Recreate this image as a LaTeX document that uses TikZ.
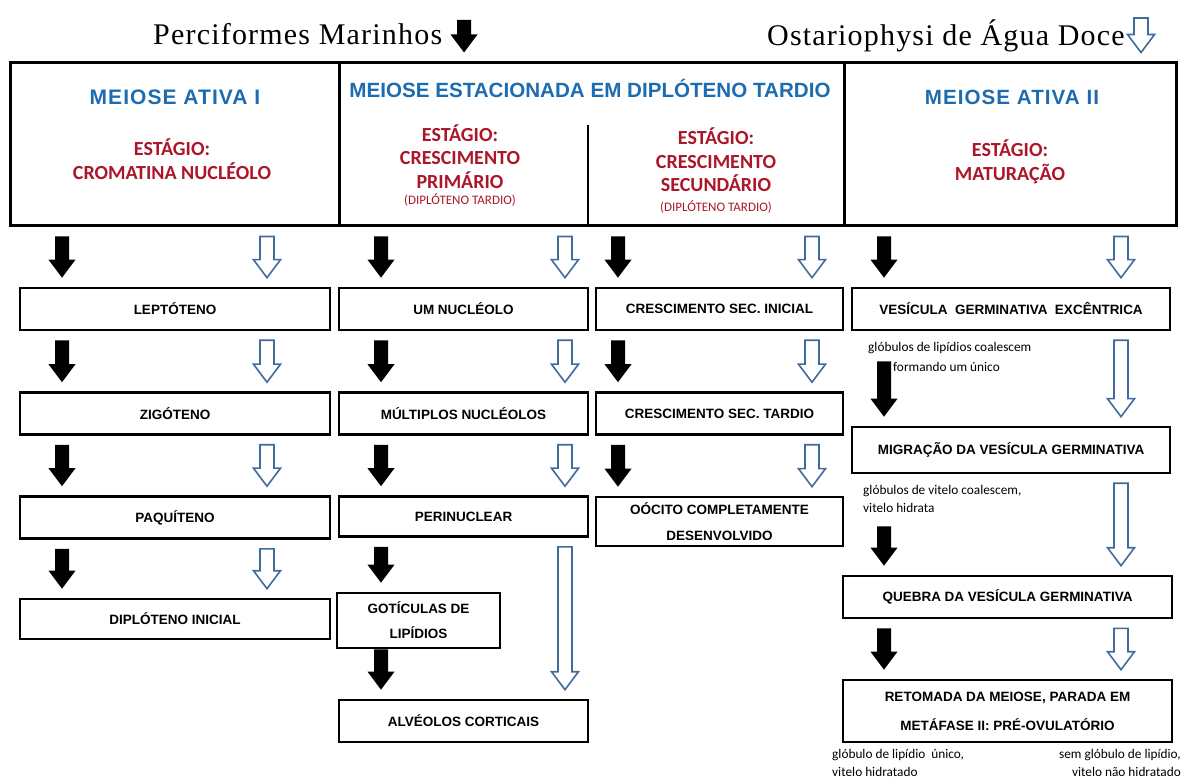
\documentclass[tikz,border=0pt]{standalone}
\usepackage{fontspec}
\setmainfont{Liberation Sans}
\newfontfamily\calfont{Carlito}
\newfontfamily\titlefont[LetterSpace=4]{Liberation Serif}
\newfontfamily\widesans[LetterSpace=5]{Liberation Sans}
\usetikzlibrary{calc}

\definecolor{headblue}{RGB}{29,108,176}
\definecolor{stagered}{RGB}{172,22,40}
\definecolor{arrowblue}{RGB}{64,108,156}

\tikzset{
  blkarrow/.style={fill=black, to path={
      let \p1=(\tikztostart), \p2=(\tikztotarget) in
      (\x1-7pt,\y1-9pt) -- (\x1+7pt,\y1-9pt) -- (\x1+7pt,\y2+27pt)
      -- (\x1+13.5pt,\y2+27pt) -- (\x1,\y2+9pt) -- (\x1-13.5pt,\y2+27pt)
      -- (\x1-7pt,\y2+27pt) -- cycle}},
  hollowarrow/.style={blkarrow, fill=white, draw=arrowblue, line width=1.6pt},
  stagebox/.style={draw, line width=2.6pt, minimum height=42pt, inner sep=0pt,
      align=center, font=\bfseries\fontsize{13.5}{27}\selectfont},
  headtitle/.style={text=headblue, inner sep=0pt, font=\bfseries\fontsize{20.6}{24}\selectfont},
  stagetext/.style={text=stagered, align=center, inner sep=0pt,
      font=\calfont\bfseries\fontsize{20}{23.5}\selectfont},
  tardio/.style={text=stagered, inner sep=0pt, font=\calfont\fontsize{13}{15}\selectfont},
  note/.style={inner sep=0pt, font=\calfont\fontsize{13.3}{18}\selectfont},
}

\begin{document}
\begin{tikzpicture}[x=1pt, y=-1pt]
\useasboundingbox (0,0) rectangle (1184,783);

% Titles
\node[anchor=base west, inner sep=0pt, font=\titlefont\fontsize{30}{36}\selectfont] (perci) at (153,45) {Perciformes Marinhos};
\node[anchor=base east, inner sep=0pt, font=\titlefont\fontsize{30}{36}\selectfont] (ostario) at (1125,46) {Ostariophysi de Água Doce};
\coordinate (pmtop) at (464,11);
\coordinate (odtop) at (1141,9);

% Header frame
\node[draw, line width=3pt, minimum width=1166pt, minimum height=163pt, inner sep=0pt] (hdr) at (593,144.5) {};
\coordinate (divA) at (339,0);
\coordinate (divB) at (844,0);
\coordinate (divC) at (588,125);
\draw[line width=3pt] (hdr.north -| divA) -- (hdr.south -| divA);
\draw[line width=3pt] (hdr.north -| divB) -- (hdr.south -| divB);
\draw[line width=1.8pt] (divC) -- (hdr.south -| divC);

% Header texts
\node[headtitle, font=\widesans\bfseries\fontsize{21}{24}\selectfont] (ativa1) at (175,97) {MEIOSE ATIVA I};
\node[headtitle] (estac) at (590,88) {MEIOSE ESTACIONADA EM DIPLÓTENO TARDIO};
\node[headtitle, font=\widesans\bfseries\fontsize{20.6}{24}\selectfont] (ativa2) at (1012,97) {MEIOSE ATIVA II};
\node[stagetext] (stg1) at (172,159) {ESTÁGIO:\\CROMATINA NUCLÉOLO};
\node[stagetext] (stg2) at (460,156.5) {ESTÁGIO:\\CRESCIMENTO\\PRIMÁRIO};
\node[tardio] (tard2) at (460,200) {(DIPLÓTENO TARDIO)};
\node[stagetext] (stg3) at (716,160) {ESTÁGIO:\\CRESCIMENTO\\SECUNDÁRIO};
\node[tardio] (tard3) at (716,207) {(DIPLÓTENO TARDIO)};
\node[stagetext] (stg4) at (1010,162) {ESTÁGIO:\\MATURAÇÃO};

% Column 1
\node[stagebox, minimum width=310pt] (lepto) at (175,309) {LEPTÓTENO};
\node[stagebox, minimum width=310pt] (zigo) at (175,413.5) {ZIGÓTENO};
\node[stagebox, minimum width=310pt] (paqui) at (175,517.5) {PAQUÍTENO};
\node[stagebox, minimum width=310pt, minimum height=40pt] (diplin) at (175,619) {DIPLÓTENO INICIAL};

% Column 2
\node[stagebox, minimum width=249pt] (umnuc) at (463.5,309) {UM NUCLÉOLO};
\node[stagebox, minimum width=249pt] (multnuc) at (463.5,413.5) {MÚLTIPLOS NUCLÉOLOS};
\node[stagebox, minimum width=249pt, minimum height=40pt] (perinuc) at (463.5,516.5) {PERINUCLEAR};
\node[stagebox, minimum width=163pt, minimum height=55pt, font=\bfseries\fontsize{13.5}{25}\selectfont] (goticulas) at (418.5,620.5) {GOTÍCULAS DE\\LIPÍDIOS};
\node[stagebox, minimum width=249pt] (alveolos) at (463.5,721) {ALVÉOLOS CORTICAIS};

% Column 3
\node[stagebox, minimum width=247pt] (cresini) at (719.5,309) {CRESCIMENTO SEC. INICIAL};
\node[stagebox, minimum width=247pt] (crestar) at (719.5,413.5) {CRESCIMENTO SEC. TARDIO};
\node[stagebox, minimum width=247pt, minimum height=49pt, font=\bfseries\fontsize{13.5}{26}\selectfont] (oocito) at (719.5,521.5) {OÓCITO COMPLETAMENTE\\DESENVOLVIDO};

% Column 4
\node[stagebox, minimum width=318pt] (vesexc) at (1011,309) {VESÍCULA\ \ GERMINATIVA\ \ EXCÊNTRICA};
\node[stagebox, minimum width=318pt, minimum height=46pt] (migra) at (1011,450) {MIGRAÇÃO DA VESÍCULA GERMINATIVA};
\node[stagebox, minimum width=329pt] (quebra) at (1007.5,597) {QUEBRA DA VESÍCULA GERMINATIVA};
\node[stagebox, minimum width=329pt, minimum height=62pt, font=\bfseries\fontsize{13.5}{29}\selectfont] (retomada) at (1007.5,711) {RETOMADA DA MEIOSE, PARADA EM\\METÁFASE II: PRÉ-OVULATÓRIO};

% Notes
\node[note, anchor=west] (lipnote) at (868,348) {glóbulos de lipídios coalescem};
\node[note, anchor=west] (lipnote2) at (893,367) {formando um único};
\node[note, anchor=north west, align=left] (vitnote) at (863,485) {glóbulos de vitelo coalescem,\\vitelo hidrata};
\node[note, anchor=north west, align=left] (endnote1) at (832,749) {glóbulo de lipídio\ \ único,\\vitelo hidratado};
\node[note, anchor=north east, align=right] (endnote2) at (1181,749) {sem glóbulo de lipídio,\\vitelo não hidratado};

% Arrow columns
\coordinate (k1) at (62,0);
\coordinate (h1) at (267,0);
\coordinate (k2) at (381,0);
\coordinate (h2) at (565,0);
\coordinate (k3) at (618,0);
\coordinate (h3) at (812,0);
\coordinate (k4) at (884,0);
\coordinate (h4) at (1121,0);

% Title arrows
\path[blkarrow] (pmtop) to (hdr.north -| pmtop);
\path[hollowarrow] (odtop) to (hdr.north -| odtop);

% Column 1 arrows
\path[blkarrow] (hdr.south -| k1) to (lepto.north -| k1);
\path[hollowarrow] (hdr.south -| h1) to (lepto.north -| h1);
\path[blkarrow] (lepto.south -| k1) to (zigo.north -| k1);
\path[hollowarrow] (lepto.south -| h1) to (zigo.north -| h1);
\path[blkarrow] (zigo.south -| k1) to (paqui.north -| k1);
\path[hollowarrow] (zigo.south -| h1) to (paqui.north -| h1);
\path[blkarrow] (paqui.south -| k1) to (diplin.north -| k1);
\path[hollowarrow] (paqui.south -| h1) to (diplin.north -| h1);

% Column 2 arrows
\path[blkarrow] (hdr.south -| k2) to (umnuc.north -| k2);
\path[hollowarrow] (hdr.south -| h2) to (umnuc.north -| h2);
\path[blkarrow] (umnuc.south -| k2) to (multnuc.north -| k2);
\path[hollowarrow] (umnuc.south -| h2) to (multnuc.north -| h2);
\path[blkarrow] (multnuc.south -| k2) to (perinuc.north -| k2);
\path[hollowarrow] (multnuc.south -| h2) to (perinuc.north -| h2);
\path[blkarrow] (perinuc.south -| k2) to (goticulas.north -| k2);
\path[hollowarrow] (perinuc.south -| h2) to (alveolos.north -| h2);
\path[blkarrow] ([yshift=9pt]goticulas.south -| k2) to (alveolos.north -| k2);

% Column 3 arrows
\path[blkarrow] (hdr.south -| k3) to (cresini.north -| k3);
\path[hollowarrow] (hdr.south -| h3) to (cresini.north -| h3);
\path[blkarrow] (cresini.south -| k3) to (crestar.north -| k3);
\path[hollowarrow] (cresini.south -| h3) to (crestar.north -| h3);
\path[blkarrow] (crestar.south -| k3) to (oocito.north -| k3);
\path[hollowarrow] (crestar.south -| h3) to (oocito.north -| h3);

% Column 4 arrows
\path[blkarrow] (hdr.south -| k4) to (vesexc.north -| k4);
\path[hollowarrow] (hdr.south -| h4) to (vesexc.north -| h4);
\path[blkarrow] ([yshift=-21pt]vesexc.south -| k4) to (migra.north -| k4);
\path[hollowarrow] (vesexc.south -| h4) to (migra.north -| h4);
\path[blkarrow] ([yshift=-43pt]migra.south -| k4) to (quebra.north -| k4);
\path[hollowarrow] (migra.south -| h4) to (quebra.north -| h4);
\path[blkarrow] (quebra.south -| k4) to (retomada.north -| k4);
\path[hollowarrow] (quebra.south -| h4) to (retomada.north -| h4);
\end{tikzpicture}
\end{document}
